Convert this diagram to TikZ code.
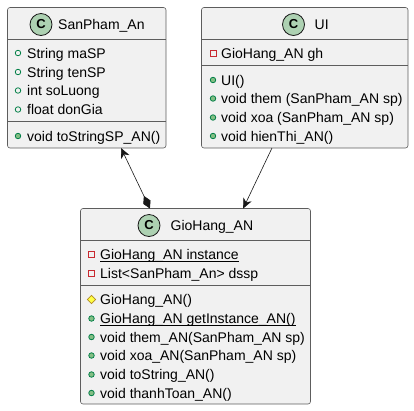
\documentclass[tikz,border=0pt]{standalone}
\usepackage{fontspec}
\setmainfont{Liberation Sans}
\usetikzlibrary{arrows.meta,shapes.geometric}
\definecolor{boxfill}{HTML}{F1F1F1}
\definecolor{boxline}{HTML}{181818}
\definecolor{spotfill}{HTML}{ADD1B2}
\definecolor{pubfill}{HTML}{84BE84}
\definecolor{publine}{HTML}{038048}
\definecolor{privline}{HTML}{C82930}
\definecolor{protfill}{HTML}{FFFF44}
\definecolor{protline}{HTML}{B38D22}

\begin{document}
\begin{tikzpicture}[x=1pt,y=-1pt,
        classbox/.style={draw=boxline!70,fill=boxfill,line width=.6pt,rounded corners=2.5pt,anchor=north west,inner sep=0pt,outer sep=0pt},
        divider/.style={draw=boxline!70,line width=.5pt},
        spot/.style={circle,draw=boxline,fill=spotfill,line width=.8pt,minimum size=22pt,inner sep=0pt,font=\fontsize{13}{13}\selectfont\bfseries},
        title/.style={anchor=base west,inner sep=0pt,font=\fontsize{14}{16}\selectfont},
        member/.style={anchor=base west,inner sep=0pt,font=\fontsize{14}{16}\selectfont},
        pubfield/.style={circle,draw=publine,line width=.8pt,minimum size=5.5pt,inner sep=0pt},
        pubmethod/.style={pubfield,fill=pubfill},
        privfield/.style={rectangle,draw=privline,line width=.8pt,minimum size=6pt,inner sep=0pt},
        protmethod/.style={diamond,draw=protline,fill=protfill,line width=.8pt,minimum size=8.5pt,inner sep=0pt},
        link/.style={draw=boxline,line width=.6pt}]

    \useasboundingbox (0,0) rectangle (414,410);

    % SanPham_An
    \node[classbox,minimum width=158.5pt,minimum height=140.5pt] (sanpham) at (7.5,7.5) {};
    \draw[divider] (sanpham.west |- 0,39) -- (sanpham.east |- 0,39);
    \draw[divider] (sanpham.west |- 0,121) -- (sanpham.east |- 0,121);
    \node[spot] (sanphamSpot) at (41,24.5) {C};
    \node[title] (sanphamTitle) at (58,29.5) {SanPham\_An};
    \node[pubfield] (spIconA) at (18,53) {};
    \node[member] (spA) at (27,58) {String maSP};
    \node[pubfield] (spIconB) at (18,72) {};
    \node[member] (spB) at (27,77) {String tenSP};
    \node[pubfield] (spIconC) at (18,90.5) {};
    \node[member] (spC) at (27,95.5) {int soLuong};
    \node[pubfield] (spIconD) at (18,109.5) {};
    \node[member] (spD) at (27,114.5) {float donGia};
    \node[pubmethod] (spIconE) at (18,136) {};
    \node[member] (spE) at (27,141) {void toStringSP\_AN()};

    % UI
    \node[classbox,minimum width=206.5pt,minimum height=140.5pt] (ui) at (201.5,7.5) {};
    \draw[divider] (ui.west |- 0,39) -- (ui.east |- 0,39);
    \draw[divider] (ui.west |- 0,65.5) -- (ui.east |- 0,65.5);
    \node[spot] (uiSpot) at (293.5,24.5) {C};
    \node[title] (uiTitle) at (314.5,29.5) {UI};
    \node[privfield] (uiIconA) at (213,53.5) {};
    \node[member] (uiA) at (221,58.5) {GioHang\_AN gh};
    \node[pubmethod] (uiIconB) at (213,80) {};
    \node[member] (uiB) at (221,85) {UI()};
    \node[pubmethod] (uiIconC) at (213,98.5) {};
    \node[member] (uiC) at (221,103.5) {void them (SanPham\_AN sp)};
    \node[pubmethod] (uiIconD) at (213,117.5) {};
    \node[member] (uiD) at (221,122.5) {void xoa (SanPham\_AN sp)};
    \node[pubmethod] (uiIconE) at (213,136) {};
    \node[member] (uiE) at (221,141) {void hienThi\_AN()};

    % GioHang_AN
    \node[classbox,minimum width=230pt,minimum height=195.5pt] (giohang) at (80.5,208.5) {};
    \draw[divider] (giohang.west |- 0,240.5) -- (giohang.east |- 0,240.5);
    \draw[divider] (giohang.west |- 0,285) -- (giohang.east |- 0,285);
    \node[spot] (giohangSpot) at (149,225.5) {C};
    \node[title] (giohangTitle) at (170.5,230.5) {GioHang\_AN};
    \node[privfield] (ghIconA) at (91.5,254.5) {};
    \node[member] (ghA) at (100,259.5) {\underline{\smash{GioHang\_AN instance}}};
    \node[privfield] (ghIconB) at (91.5,273) {};
    \node[member] (ghB) at (100,278) {List<SanPham\_An> dssp};
    \node[protmethod] (ghIconC) at (91.5,299.5) {};
    \node[member] (ghC) at (100,304.5) {GioHang\_AN()};
    \node[pubmethod] (ghIconD) at (91.5,318.5) {};
    \node[member] (ghD) at (100,323.5) {\underline{\smash{GioHang\_AN getInstance\_AN()}}};
    \node[pubmethod] (ghIconE) at (91.5,337) {};
    \node[member] (ghE) at (100,342) {void them\_AN(SanPham\_AN sp)};
    \node[pubmethod] (ghIconF) at (91.5,355.5) {};
    \node[member] (ghF) at (100,360.5) {void xoa\_AN(SanPham\_AN sp)};
    \node[pubmethod] (ghIconG) at (91.5,374.5) {};
    \node[member] (ghG) at (100,379.5) {void toString\_AN()};
    \node[pubmethod] (ghIconH) at (91.5,393) {};
    \node[member] (ghH) at (100,398) {void thanhToan\_AN()};

    % connectors
    \draw[link,{Stealth[length=10pt,width=9pt,inset=3pt]}-{Diamond[length=14pt,width=8pt]}] (sanpham.-64.7) -- (giohang.115.9);
    \draw[link,-{Stealth[length=10pt,width=9pt,inset=3pt]}] (ui.-115) -- (giohang.64.1);
\end{tikzpicture}
\end{document}
